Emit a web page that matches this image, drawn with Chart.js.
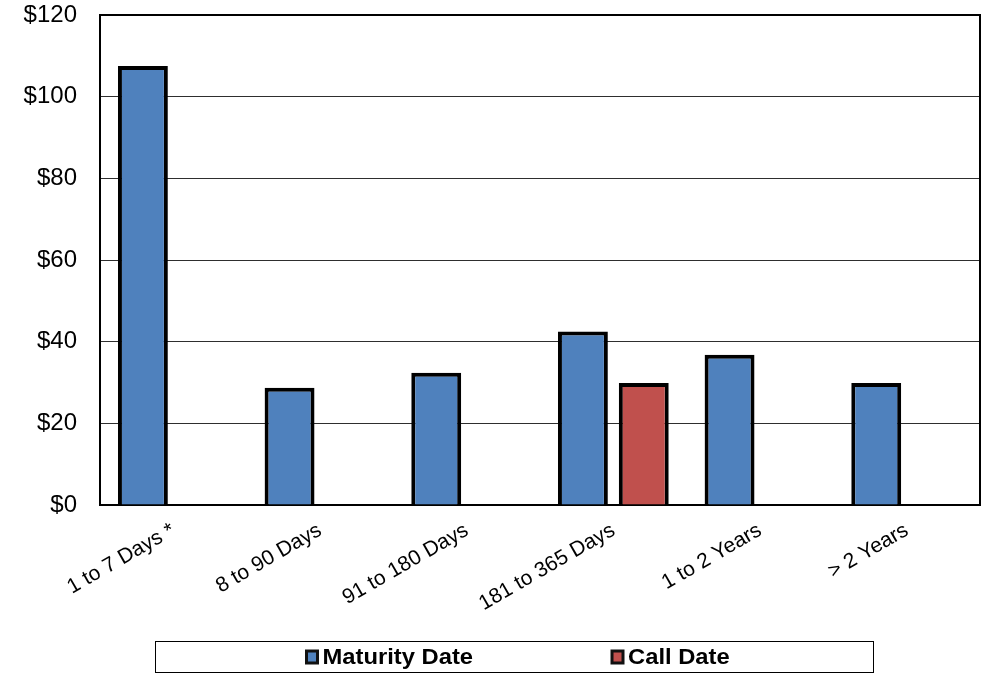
<!DOCTYPE html>
<html>
<head>
<meta charset="utf-8">
<style>
  html, body { margin: 0; padding: 0; background: #ffffff; }
  #wrap { width: 987px; height: 673px; position: relative; }
</style>
<script src="https://cdn.jsdelivr.net/npm/chart.js@4/dist/chart.umd.min.js"></script>
</head>
<body>
<div id="wrap"><canvas id="chart" width="987" height="673"></canvas></div>
<script>
// Maturity buckets and amounts (in $)
const categories = ['1 to 7 Days *', '8 to 90 Days', '91 to 180 Days', '181 to 365 Days', '1 to 2 Years', '> 2 Years'];
const maturityDate = [107.5, 28.7, 32.4, 42.5, 36.8, 29.9];
const callDate = [null, null, null, 29.9, null, null];
const yTicks = [0, 20, 40, 60, 80, 100, 120];

const BLUE = '#4F81BD';
const RED = '#C0504D';

// Frame around the plot area (Chart.js only draws left/bottom axis lines)
const plotFrame = {
  id: 'plotFrame',
  beforeDatasetsDraw(chart) {
    const { ctx, chartArea: a } = chart;
    ctx.save();
    ctx.strokeStyle = '#000';
    ctx.lineWidth = 2;
    ctx.strokeRect(a.left, a.top, a.right - a.left, a.bottom - a.top);
    ctx.restore();
  }
};

// Boxed legend under the axis labels
const boxedLegend = {
  id: 'boxedLegend',
  afterDraw(chart) {
    const { ctx } = chart;
    const box = { x: 155.5, y: 641.5, w: 718, h: 31 };
    ctx.save();
    ctx.strokeStyle = '#000';
    ctx.lineWidth = 1;
    ctx.strokeRect(box.x, box.y, box.w, box.h);
    ctx.font = 'bold 22px "Liberation Sans", Arial, sans-serif';
    ctx.textBaseline = 'middle';
    ctx.textAlign = 'left';
    const cy = box.y + box.h / 2;
    const stretch = 1.08;
    let x = box.x + 150;
    chart.data.datasets.forEach((ds) => {
      ctx.fillStyle = ds.backgroundColor;
      ctx.strokeStyle = '#111';
      ctx.lineWidth = 3;
      ctx.fillRect(x + 1, cy - 6, 11, 12);
      ctx.strokeRect(x + 1, cy - 6, 11, 12);
      ctx.fillStyle = '#000';
      const tx = x + 17;
      ctx.save();
      ctx.translate(tx, cy + 1);
      ctx.scale(stretch, 1);
      ctx.fillText(ds.label, 0, 0);
      ctx.restore();
      x = tx + ctx.measureText(ds.label).width * stretch + 138;
    });
    ctx.restore();
  }
};

new Chart(document.getElementById('chart'), {
  type: 'bar',
  data: {
    labels: categories,
    datasets: [
      {
        label: 'Maturity Date',
        data: maturityDate,
        backgroundColor: BLUE,
        borderColor: '#000',
        borderWidth: 4,
        categoryPercentage: 0.83,
        barPercentage: 0.82
      },
      {
        label: 'Call Date',
        data: callDate,
        backgroundColor: RED,
        borderColor: '#000',
        borderWidth: 4,
        categoryPercentage: 0.83,
        barPercentage: 0.82
      }
    ]
  },
  options: {
    responsive: false,
    animation: false,
    layout: { padding: { top: 15, right: 7, bottom: 0, left: 0 } },
    plugins: {
      legend: { display: false },
      tooltip: { enabled: false }
    },
    scales: {
      x: {
        grid: { display: false, drawTicks: false },
        border: { display: false },
        ticks: {
          color: '#000',
          font: { family: '"Liberation Sans", Arial, sans-serif', size: 21 },
          minRotation: 30,
          maxRotation: 30,
          padding: 13,
          autoSkip: false
        },
        afterFit(scale) { scale.height = 168; scale.paddingLeft = 0; scale.paddingRight = 0; }
      },
      y: {
        min: 0,
        max: 120,
        afterBuildTicks(scale) { scale.ticks = yTicks.map(v => ({ value: v })); },
        grid: { color: '#2e2e2e', lineWidth: 1, drawTicks: false },
        border: { display: false },
        ticks: {
          color: '#000',
          font: { family: '"Liberation Sans", Arial, sans-serif', size: 24 },
          padding: 23,
          callback: (v) => '$' + v
        },
        afterFit(scale) { scale.width = 100; scale.paddingTop = 0; scale.paddingBottom = 0; }
      }
    }
  },
  plugins: [plotFrame, boxedLegend]
});
</script>
</body>
</html>
